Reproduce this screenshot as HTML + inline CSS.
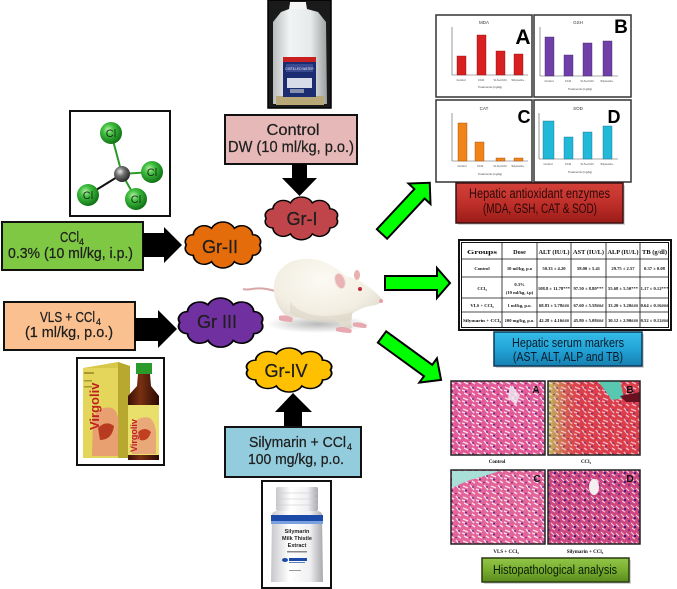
<!DOCTYPE html>
<html><head><meta charset="utf-8">
<style>
html,body{margin:0;padding:0;background:#fff;}
svg{display:block;}
text{font-family:"Liberation Sans",sans-serif;}
.t{fill:#1e1e1e;stroke:#1e1e1e;stroke-width:0.25;}
.serif{font-family:"Liberation Serif",serif;font-weight:bold;fill:#111;}
</style></head>
<body>
<svg width="677" height="589" viewBox="0 0 677 589" xmlns="http://www.w3.org/2000/svg">
<defs>
  <path id="cloud" d="M94,30 A9.5,9.5 0 0 1 85.6,44.1 A13,13 0 0 1 63.6,52.8 A15,15 0 0 1 36.4,52.8 A13,13 0 0 1 14.4,44.1 A9.5,9.5 0 0 1 6,30 A9.5,9.5 0 0 1 14.4,15.9 A13,13 0 0 1 36.4,7.2 A15,15 0 0 1 63.6,7.2 A13,13 0 0 1 85.6,15.9 A9.5,9.5 0 0 1 94,30 Z"/>
  <radialGradient id="clg" cx="0.38" cy="0.35" r="0.7">
    <stop offset="0" stop-color="#b8f0a8"/><stop offset="0.35" stop-color="#40c040"/><stop offset="1" stop-color="#0a6a10"/>
  </radialGradient>
  <radialGradient id="cg" cx="0.38" cy="0.35" r="0.7">
    <stop offset="0" stop-color="#e8e8e8"/><stop offset="0.4" stop-color="#707070"/><stop offset="1" stop-color="#202020"/>
  </radialGradient>
  <linearGradient id="redg" x1="0" y1="0" x2="0" y2="1">
    <stop offset="0" stop-color="#d4403a"/><stop offset="0.5" stop-color="#c0302a"/><stop offset="1" stop-color="#9a1c18"/>
  </linearGradient>
  <linearGradient id="blueg" x1="0" y1="0" x2="0" y2="1">
    <stop offset="0" stop-color="#36bde8"/><stop offset="0.5" stop-color="#22a4d8"/><stop offset="1" stop-color="#1780b0"/>
  </linearGradient>
  <linearGradient id="greeng" x1="0" y1="0" x2="0" y2="1">
    <stop offset="0" stop-color="#92c648"/><stop offset="0.5" stop-color="#78ae30"/><stop offset="1" stop-color="#5a8a1e"/>
  </linearGradient>
  <linearGradient id="bottleg" x1="0" y1="0" x2="1" y2="0">
    <stop offset="0" stop-color="#b8bcbc"/><stop offset="0.3" stop-color="#f2f4f4"/><stop offset="0.7" stop-color="#e6eaea"/><stop offset="1" stop-color="#9ca0a0"/>
  </linearGradient>
  <linearGradient id="whiteb" x1="0" y1="0" x2="1" y2="0">
    <stop offset="0" stop-color="#c8c8cc"/><stop offset="0.35" stop-color="#ffffff"/><stop offset="0.75" stop-color="#f0f0f2"/><stop offset="1" stop-color="#a8a8ae"/>
  </linearGradient>
  <linearGradient id="brown" x1="0" y1="0" x2="1" y2="0">
    <stop offset="0" stop-color="#3a1006"/><stop offset="0.4" stop-color="#7a3012"/><stop offset="1" stop-color="#2a0a04"/>
  </linearGradient>
  <radialGradient id="ratg" cx="0.45" cy="0.3" r="0.75">
    <stop offset="0" stop-color="#fcfaf3"/><stop offset="0.6" stop-color="#f2eee2"/><stop offset="1" stop-color="#d8d3c4"/>
  </radialGradient>
  <radialGradient id="shadow" cx="0.5" cy="0.5" r="0.5">
    <stop offset="0" stop-color="#808080" stop-opacity="0.55"/><stop offset="1" stop-color="#808080" stop-opacity="0"/>
  </radialGradient>
  <pattern id="tex" width="14" height="11" patternUnits="userSpaceOnUse">
    <path d="M1,2 L6,4 M8,1 L12,6 M2,8 L6,10 M10,8 L13,10 M0,5 L3,6" stroke="#fbe0ea" stroke-width="1.4"/>
    <circle cx="4" cy="6.5" r="1" fill="#4a2a8a"/>
    <circle cx="11" cy="3" r="0.9" fill="#4a2a8a"/>
    <circle cx="8" cy="9.5" r="0.8" fill="#6a2080"/>
  </pattern>
  <pattern id="tex2" width="10" height="9" patternUnits="userSpaceOnUse">
    <path d="M1,1 L4,4 M6,2 L9,5 M2,6 L5,8" stroke="#f6d0e0" stroke-width="1.1"/>
    <circle cx="5" cy="5" r="1.1" fill="#3a1a7a"/>
    <circle cx="9" cy="8" r="0.9" fill="#4a2080"/>
  </pattern>
  <linearGradient id="hbB1" x1="0" y1="0" x2="1" y2="0">
    <stop offset="0" stop-color="#b8d860" stop-opacity="0.85"/><stop offset="0.4" stop-color="#e04050" stop-opacity="0"/>
  </linearGradient>
</defs>

<!-- ===== Distilled water image ===== -->
<rect x="268" y="0" width="63" height="108" fill="#1a1a1a" stroke="#000" stroke-width="1.5"/>
<path d="M290,3 L306,3 L307,9 L318,12 L326,22 L327,104 L273,104 L273,22 L281,12 L289,9 Z" fill="url(#bottleg)"/>
<rect x="290" y="2" width="16" height="7" fill="#f4f4f4"/>
<rect x="276" y="96" width="48" height="9" fill="#b8a878"/>
<rect x="283" y="57" width="33" height="40" fill="#1c2c70"/>
<rect x="283" y="57" width="33" height="5" fill="#c82020"/>
<rect x="286" y="64" width="27" height="8" fill="#3a4a90"/>
<text x="299.5" y="70" font-size="3.2" fill="#e8e8f8" text-anchor="middle">DISTILLED WATER</text>
<rect x="287" y="78" width="25" height="10" fill="#d8dce8"/>
<rect x="290" y="89" width="14" height="4" fill="#8890b0"/>

<!-- ===== Control box ===== -->
<rect x="225" y="115" width="132" height="49" fill="#e6b9b8" stroke="#111" stroke-width="2"/>
<text class="t" x="293" y="135" font-size="16" text-anchor="middle" textLength="53" lengthAdjust="spacingAndGlyphs">Control</text>
<text class="t" x="228" y="152" font-size="16" textLength="126" lengthAdjust="spacingAndGlyphs">DW (10 ml/kg, p.o.)</text>
<polygon points="292,164 307,164 307,178 317,178 299.5,196 282,178 292,178" fill="#000"/>

<!-- ===== Molecule ===== -->
<rect x="70" y="111" width="100" height="105" fill="#fff" stroke="#111" stroke-width="2"/>
<line x1="122" y1="174" x2="111" y2="133" stroke="#2a9a2a" stroke-width="2"/>
<line x1="122" y1="174" x2="152" y2="172" stroke="#2a9a2a" stroke-width="2"/>
<line x1="122" y1="174" x2="88" y2="195" stroke="#111" stroke-width="2"/>
<line x1="122" y1="174" x2="136" y2="199" stroke="#2a9a2a" stroke-width="2"/>
<circle cx="111" cy="133" r="11" fill="url(#clg)"/>
<circle cx="152" cy="172" r="11" fill="url(#clg)"/>
<circle cx="88" cy="195" r="11" fill="url(#clg)"/>
<circle cx="136" cy="199" r="11" fill="url(#clg)"/>
<circle cx="122" cy="174" r="8" fill="url(#cg)"/>
<text x="111" y="137" font-size="11" text-anchor="middle" fill="#1a2a1a">Cl</text>
<text x="152" y="176" font-size="11" text-anchor="middle" fill="#1a2a1a">Cl</text>
<text x="88" y="199" font-size="11" text-anchor="middle" fill="#1a2a1a">Cl</text>
<text x="136" y="203" font-size="11" text-anchor="middle" fill="#1a2a1a">Cl</text>

<!-- ===== CCl4 box ===== -->
<rect x="2" y="222" width="141" height="48" fill="#7ec843" stroke="#111" stroke-width="2"/>
<text class="t" x="60" y="242" font-size="15" textLength="19" lengthAdjust="spacingAndGlyphs">CCl</text>
<text class="t" x="79" y="245" font-size="9">4</text>
<text class="t" x="8" y="258" font-size="15" textLength="125" lengthAdjust="spacingAndGlyphs">0.3% (10 ml/kg, i.p.)</text>
<polygon points="143,233 164,233 164,227 182,245 164,263 164,257 143,257" fill="#000"/>

<!-- ===== VLS box ===== -->
<rect x="4" y="302" width="131" height="48" fill="#fac090" stroke="#111" stroke-width="2"/>
<text class="t" x="40" y="322" font-size="15" textLength="55" lengthAdjust="spacingAndGlyphs">VLS + CCl</text>
<text class="t" x="96" y="325" font-size="9">4</text>
<text class="t" x="25" y="337" font-size="15" textLength="88" lengthAdjust="spacingAndGlyphs">(1 ml/kg, p.o.)</text>
<polygon points="135,318 158,318 158,310 177,329 158,348 158,341 135,341" fill="#000"/>

<!-- ===== Virgoliv image ===== -->
<rect x="77" y="358" width="87" height="107" fill="#fff" stroke="#111" stroke-width="2"/>
<polygon points="83,368 118,362 130,366 130,458 83,458" fill="#d8c848"/>
<polygon points="118,362 130,366 130,458 118,458" fill="#b8a830"/>
<rect x="83" y="368" width="35" height="90" fill="#e4d65a"/>
<path d="M93,418 Q100,405 112,408 Q120,412 118,430 L118,456 L92,456 Z" fill="#e8a070"/>
<path d="M98,428 Q106,420 114,426 Q112,440 100,440 Z" fill="#b83a20"/>
<text x="0" y="0" font-size="13" font-weight="bold" fill="#c02020" transform="translate(99,430) rotate(-90)">Virgoliv</text>
<rect x="84" y="372" width="10" height="2" fill="#a89a30"/>
<rect x="84" y="380" width="8" height="1.5" fill="#a89a30"/>
<rect x="84" y="386" width="8" height="1.5" fill="#a89a30"/>
<rect x="136" y="363" width="16" height="11" fill="#2a9a2a"/>
<path d="M138,374 L150,374 L151,386 L159,396 L159,460 L128,460 L128,396 L137,386 Z" fill="url(#brown)"/>
<rect x="128" y="405" width="31" height="50" fill="#e8e06a"/>
<path d="M132,425 Q140,415 150,418 Q157,424 156,440 L156,454 L132,454 Z" fill="#e8a878"/>
<path d="M138,432 Q145,426 151,432 Q148,442 140,440 Z" fill="#c04020"/>
<text x="0" y="0" font-size="9" font-weight="bold" fill="#c02020" transform="translate(137,452) rotate(-90)">Virgoliv</text>

<!-- ===== Rat ===== -->
<ellipse cx="318" cy="324" rx="52" ry="9" fill="url(#shadow)"/>
<path d="M275,291 Q262,287 252,289 Q246,290 243,289" stroke="#d9a6a6" stroke-width="2" fill="none"/>
<path d="M274,293 Q272,272 290,262 Q305,256 322,261 Q336,267 346,276 Q356,278 366,285 Q376,292 383,300 Q380,305 370,306 Q360,308 352,314 Q350,322 352,328 L346,330 Q340,322 330,318 Q315,321 300,318 Q290,318 285,315 Q276,306 274,293 Z" fill="url(#ratg)"/>
<path d="M290,302 Q300,314 320,316 Q340,316 352,312 L352,320 Q340,324 320,322 Q300,320 290,313 Z" fill="#dcd6c6" opacity="0.6"/>
<ellipse cx="340" cy="281" rx="5" ry="8" transform="rotate(-20 340 281)" fill="#eab4b4" stroke="#f0e8e0" stroke-width="1"/>
<ellipse cx="357" cy="275" rx="3" ry="5" fill="#e8b0b0"/>
<circle cx="360" cy="289" r="2" fill="#c02a3a"/>
<circle cx="381" cy="301" r="2" fill="#e8a0a8"/>
<path d="M279,316 Q285,314 293,318 L292,322 Q285,322 279,320 Z" fill="#e8a8b0"/>
<path d="M336,328 Q343,325 352,330 L351,333 Q343,333 336,331 Z" fill="#e8a8b0"/>
<path d="M353,323 Q360,321 367,325 L366,328 Q359,328 353,326 Z" fill="#e8a8b0"/>

<!-- ===== Clouds ===== -->
<use href="#cloud" transform="translate(261.4,198) scale(0.8,0.68)" fill="#c0454a" stroke="#000" stroke-width="2" vector-effect="non-scaling-stroke"/>
<text class="t" x="302" y="225" font-size="18" text-anchor="middle">Gr-I</text>
<use href="#cloud" transform="translate(181.3,223.1) scale(0.833,0.73)" fill="#e46c0a" stroke="#000" stroke-width="2" vector-effect="non-scaling-stroke"/>
<text class="t" x="220" y="253" font-size="18" text-anchor="middle">Gr-II</text>
<use href="#cloud" transform="translate(174.1,299.2) scale(0.93,0.78)" fill="#7030a0" stroke="#000" stroke-width="2" vector-effect="non-scaling-stroke"/>
<text class="t" x="217" y="328" font-size="18" text-anchor="middle">Gr III</text>
<use href="#cloud" transform="translate(242.1,349) scale(0.94,0.70)" fill="#ffc000" stroke="#000" stroke-width="2" vector-effect="non-scaling-stroke"/>
<text class="t" x="286" y="377" font-size="18" text-anchor="middle">Gr-IV</text>
<polygon points="284,428 302,428 302,412 312,412 293,393 275,412 284,412" fill="#000"/>

<!-- ===== Silymarin box ===== -->
<rect x="225" y="427" width="136" height="50" fill="#93cddd" stroke="#111" stroke-width="2"/>
<text class="t" x="249" y="447" font-size="15" textLength="97" lengthAdjust="spacingAndGlyphs">Silymarin + CCl</text>
<text class="t" x="347" y="450" font-size="9">4</text>
<text class="t" x="248" y="464" font-size="15" textLength="96" lengthAdjust="spacingAndGlyphs">100 mg/kg, p.o.</text>

<!-- ===== Silymarin bottle image ===== -->
<rect x="262" y="481" width="69" height="107" fill="#fff" stroke="#111" stroke-width="2"/>
<rect x="276" y="487" width="42" height="24" rx="2" fill="url(#whiteb)"/>
<line x1="276" y1="493" x2="318" y2="493" stroke="#c8c8cc" stroke-width="0.6"/>
<line x1="276" y1="499" x2="318" y2="499" stroke="#c8c8cc" stroke-width="0.6"/>
<line x1="276" y1="505" x2="318" y2="505" stroke="#c8c8cc" stroke-width="0.6"/>
<path d="M272,515 Q272,511 278,511 L316,511 Q322,511 322,515 L323,582 L271,582 Z" fill="url(#whiteb)"/>
<rect x="271" y="515" width="52" height="6" fill="#1c4aa8"/>
<rect x="271" y="521" width="52" height="3" fill="#7aa0e0"/>
<text x="297" y="533" font-size="5.5" font-weight="bold" text-anchor="middle" fill="#222">Silymarin</text>
<text x="297" y="540" font-size="5.5" font-weight="bold" text-anchor="middle" fill="#222">Milk Thistle</text>
<text x="297" y="547" font-size="5.5" font-weight="bold" text-anchor="middle" fill="#222">Extract</text>
<rect x="287" y="551" width="20" height="1.5" fill="#888"/>
<ellipse cx="285" cy="560" rx="3" ry="2" fill="#1c4aa8"/>
<rect x="289" y="558" width="18" height="3" fill="#1c4aa8"/>
<rect x="289" y="562" width="16" height="1" fill="#6080c0"/>
<rect x="289" y="570" width="12" height="1" fill="#999"/>

<!-- ===== Green arrows ===== -->
<polygon transform="translate(382,234) rotate(-47)" points="0,-7 55,-7 55,-15 70,0 55,15 55,7 0,7" fill="#00ff00" stroke="#000" stroke-width="2"/>
<polygon transform="translate(385,283)" points="0,-7 52,-7 52,-15 65,0 52,15 52,7 0,7" fill="#00ff00" stroke="#000" stroke-width="2"/>
<polygon transform="translate(382,337) rotate(36)" points="0,-7 57,-7 57,-15 73,0 57,15 57,7 0,7" fill="#00ff00" stroke="#000" stroke-width="2"/>

<!-- ===== Charts ===== -->
<!-- A -->
<rect x="436" y="15" width="96" height="82" fill="#fff" stroke="#333" stroke-width="1.5"/>
<text x="484" y="24" font-size="4.5" text-anchor="middle" fill="#333">MDA</text>
<line x1="452" y1="27" x2="452" y2="75" stroke="#555" stroke-width="0.6"/>
<line x1="452" y1="75" x2="528" y2="75" stroke="#555" stroke-width="0.6"/>
<rect x="457" y="56" width="9" height="19" fill="#d82020" stroke="#8a1010" stroke-width="0.4"/>
<rect x="477" y="35" width="9" height="40" fill="#d82020" stroke="#8a1010" stroke-width="0.4"/>
<rect x="496" y="51" width="9" height="24" fill="#d82020" stroke="#8a1010" stroke-width="0.4"/>
<rect x="514" y="54" width="9" height="21" fill="#d82020" stroke="#8a1010" stroke-width="0.4"/>
<text x="461" y="81" font-size="2.8" text-anchor="middle" fill="#444">Control</text>
<text x="481" y="81" font-size="2.8" text-anchor="middle" fill="#444">CCl4</text>
<text x="500" y="81" font-size="2.8" text-anchor="middle" fill="#444">VLS+CCl4</text>
<text x="518" y="81" font-size="2.8" text-anchor="middle" fill="#444">Silymarin+</text>
<text x="490" y="88" font-size="2.8" text-anchor="middle" fill="#444">Treatments (mg/kg)</text>
<text x="523" y="44" font-size="21" font-weight="bold" text-anchor="middle" fill="#000">A</text>
<!-- B -->
<rect x="534" y="15" width="97" height="82" fill="#fff" stroke="#333" stroke-width="1.5"/>
<text x="578" y="24" font-size="4.5" text-anchor="middle" fill="#333">GSH</text>
<line x1="540" y1="27" x2="540" y2="76" stroke="#555" stroke-width="0.6"/>
<line x1="540" y1="76" x2="618" y2="76" stroke="#555" stroke-width="0.6"/>
<rect x="545" y="37" width="9" height="39" fill="#7040a8" stroke="#3a1a60" stroke-width="0.4"/>
<rect x="564" y="55" width="9" height="21" fill="#7040a8" stroke="#3a1a60" stroke-width="0.4"/>
<rect x="583" y="43" width="9" height="33" fill="#7040a8" stroke="#3a1a60" stroke-width="0.4"/>
<rect x="603" y="41" width="9" height="35" fill="#7040a8" stroke="#3a1a60" stroke-width="0.4"/>
<text x="549" y="82" font-size="2.8" text-anchor="middle" fill="#444">Control</text>
<text x="568" y="82" font-size="2.8" text-anchor="middle" fill="#444">CCl4</text>
<text x="587" y="82" font-size="2.8" text-anchor="middle" fill="#444">VLS+CCl4</text>
<text x="607" y="82" font-size="2.8" text-anchor="middle" fill="#444">Silymarin+</text>
<text x="580" y="90" font-size="2.8" text-anchor="middle" fill="#444">Treatments (mg/kg)</text>
<text x="621" y="33" font-size="19" font-weight="bold" text-anchor="middle" fill="#000">B</text>
<!-- C -->
<rect x="436" y="100" width="96" height="82" fill="#fff" stroke="#333" stroke-width="1.5"/>
<text x="484" y="110" font-size="4.5" text-anchor="middle" fill="#333">CAT</text>
<line x1="452" y1="113" x2="452" y2="161" stroke="#555" stroke-width="0.6"/>
<line x1="452" y1="161" x2="528" y2="161" stroke="#555" stroke-width="0.6"/>
<rect x="458" y="123" width="9" height="38" fill="#f08418" stroke="#9a4a08" stroke-width="0.4"/>
<rect x="475" y="142" width="9" height="19" fill="#f08418" stroke="#9a4a08" stroke-width="0.4"/>
<rect x="496" y="158" width="9" height="3" fill="#f08418" stroke="#9a4a08" stroke-width="0.4"/>
<rect x="514" y="158" width="9" height="3" fill="#f08418" stroke="#9a4a08" stroke-width="0.4"/>
<text x="462" y="167" font-size="2.8" text-anchor="middle" fill="#444">Control</text>
<text x="480" y="167" font-size="2.8" text-anchor="middle" fill="#444">CCl4</text>
<text x="500" y="167" font-size="2.8" text-anchor="middle" fill="#444">VLS+CCl4</text>
<text x="518" y="167" font-size="2.8" text-anchor="middle" fill="#444">Silymarin+</text>
<text x="490" y="175" font-size="2.8" text-anchor="middle" fill="#444">Treatments (mg/kg)</text>
<text x="524" y="123" font-size="18" font-weight="bold" text-anchor="middle" fill="#000">C</text>
<!-- D -->
<rect x="534" y="100" width="97" height="82" fill="#fff" stroke="#333" stroke-width="1.5"/>
<text x="578" y="110" font-size="4.5" text-anchor="middle" fill="#333">SOD</text>
<line x1="539" y1="113" x2="539" y2="159" stroke="#555" stroke-width="0.6"/>
<line x1="539" y1="159" x2="618" y2="159" stroke="#555" stroke-width="0.6"/>
<rect x="543" y="121" width="11" height="38" fill="#22b8d8" stroke="#0a6a88" stroke-width="0.4"/>
<rect x="564" y="137" width="9" height="22" fill="#22b8d8" stroke="#0a6a88" stroke-width="0.4"/>
<rect x="583" y="132" width="9" height="27" fill="#22b8d8" stroke="#0a6a88" stroke-width="0.4"/>
<rect x="603" y="126" width="9" height="33" fill="#22b8d8" stroke="#0a6a88" stroke-width="0.4"/>
<text x="548" y="165" font-size="2.8" text-anchor="middle" fill="#444">Control</text>
<text x="568" y="165" font-size="2.8" text-anchor="middle" fill="#444">CCl4</text>
<text x="587" y="165" font-size="2.8" text-anchor="middle" fill="#444">VLS+CCl4</text>
<text x="607" y="165" font-size="2.8" text-anchor="middle" fill="#444">Silymarin+</text>
<text x="580" y="173" font-size="2.8" text-anchor="middle" fill="#444">Treatments (mg/kg)</text>
<text x="614" y="123" font-size="18" font-weight="bold" text-anchor="middle" fill="#000">D</text>

<!-- Red box -->
<rect x="458" y="185" width="167" height="40" fill="#b8b8b8" opacity="0.6"/>
<rect x="456" y="183" width="167" height="40" fill="url(#redg)" stroke="#3a1010" stroke-width="1.5"/>
<text x="539.5" y="198" font-size="13.5" text-anchor="middle" fill="#2a0808" textLength="141" lengthAdjust="spacingAndGlyphs">Hepatic antioxidant enzymes</text>
<text x="540" y="213" font-size="13.5" text-anchor="middle" fill="#2a0808" textLength="114" lengthAdjust="spacingAndGlyphs">(MDA, GSH, CAT &amp; SOD)</text>

<!-- ===== Table ===== -->
<rect x="459" y="240" width="212" height="90" fill="#fff" stroke="#111" stroke-width="2"/>
<rect x="461.5" y="242.5" width="207" height="85" fill="none" stroke="#111" stroke-width="1"/>
<g stroke="#111" stroke-width="0.8">
  <line x1="502" y1="242.5" x2="502" y2="327.5"/>
  <line x1="537" y1="242.5" x2="537" y2="327.5"/>
  <line x1="571" y1="242.5" x2="571" y2="327.5"/>
  <line x1="606" y1="242.5" x2="606" y2="327.5"/>
  <line x1="640" y1="242.5" x2="640" y2="327.5"/>
  <line x1="461.5" y1="259" x2="668.5" y2="259"/>
  <line x1="461.5" y1="277" x2="668.5" y2="277"/>
  <line x1="461.5" y1="298" x2="668.5" y2="298"/>
  <line x1="461.5" y1="312" x2="668.5" y2="312"/>
</g>
<g font-size="6.2" text-anchor="middle">
  <text class="serif" x="482" y="254" textLength="30" lengthAdjust="spacingAndGlyphs">Groups</text>
  <text class="serif" x="519.5" y="254">Dose</text>
  <text class="serif" x="554" y="254" textLength="31" lengthAdjust="spacingAndGlyphs">ALT (IU/L)</text>
  <text class="serif" x="588.5" y="254" textLength="31" lengthAdjust="spacingAndGlyphs">AST (IU/L)</text>
  <text class="serif" x="623" y="254" textLength="31" lengthAdjust="spacingAndGlyphs">ALP (IU/L)</text>
  <text class="serif" x="654.5" y="254" textLength="25" lengthAdjust="spacingAndGlyphs">TB (g/dl)</text>
</g>
<g font-size="4.6" text-anchor="middle">
  <text class="serif" x="482" y="270">Control</text>
  <text class="serif" x="519.5" y="270" font-weight="normal">10 ml/kg, p.o</text>
  <text class="serif" x="554" y="270" font-weight="normal">50.33 ± 4.20</text>
  <text class="serif" x="588.5" y="270" font-weight="normal">58.00 ± 5.41</text>
  <text class="serif" x="623" y="270" font-weight="normal">29.75 ± 2.57</text>
  <text class="serif" x="654.5" y="270" font-weight="normal">0.37 ± 0.08</text>

  <text class="serif" x="482" y="290">CCl₄</text>
  <text class="serif" x="519.5" y="286" font-weight="normal">0.3%</text>
  <text class="serif" x="519.5" y="294" font-weight="normal">(10 ml/kg, i.p)</text>
  <text class="serif" x="554" y="290" font-weight="normal">108.8 ± 11.78***</text>
  <text class="serif" x="588.5" y="290" font-weight="normal">97.50 ± 8.80***</text>
  <text class="serif" x="623" y="290" font-weight="normal">55.68 ± 5.50***</text>
  <text class="serif" x="654.5" y="290" font-weight="normal">1.17 ± 0.12***</text>

  <text class="serif" x="482" y="307">VLS + CCl₄</text>
  <text class="serif" x="519.5" y="307" font-weight="normal">1 ml/kg, p.o.</text>
  <text class="serif" x="554" y="307" font-weight="normal">68.83 ± 5.78###</text>
  <text class="serif" x="588.5" y="307" font-weight="normal">67.60 ± 5.58###</text>
  <text class="serif" x="623" y="307" font-weight="normal">33.20 ± 3.20###</text>
  <text class="serif" x="654.5" y="307" font-weight="normal">0.64 ± 0.16###</text>

  <text class="serif" x="482" y="322" textLength="38" lengthAdjust="spacingAndGlyphs">Silymarin + CCl₄</text>
  <text class="serif" x="519.5" y="322" font-weight="normal">100 mg/kg, p.o.</text>
  <text class="serif" x="554" y="322" font-weight="normal">42.28 ± 4.16###</text>
  <text class="serif" x="588.5" y="322" font-weight="normal">45.80 ± 5.08###</text>
  <text class="serif" x="623" y="322" font-weight="normal">30.12 ± 2.90###</text>
  <text class="serif" x="654.5" y="322" font-weight="normal">0.52 ± 0.12###</text>
</g>

<!-- Blue box -->
<rect x="496" y="334" width="148" height="34" fill="#b8b8b8" opacity="0.6"/>
<rect x="494" y="332" width="148" height="34" fill="url(#blueg)" stroke="#0a3a5a" stroke-width="1.5"/>
<text x="568" y="347" font-size="13" text-anchor="middle" fill="#0a1a2a" textLength="112" lengthAdjust="spacingAndGlyphs">Hepatic serum markers</text>
<text x="568" y="361" font-size="13" text-anchor="middle" fill="#0a1a2a" textLength="110" lengthAdjust="spacingAndGlyphs">(AST, ALT, ALP and TB)</text>

<!-- ===== Histology ===== -->
<!-- A -->
<rect x="451" y="381" width="94" height="74" fill="#e25a96"/>
<rect x="451" y="381" width="94" height="74" fill="url(#tex)"/>
<path d="M510,385 L520,395 L516,405 L508,398 Z" fill="#f0f0f8" opacity="0.8"/>
<rect x="451" y="381" width="94" height="74" fill="none" stroke="#222" stroke-width="1.5"/>
<text x="536" y="393" font-size="10" font-weight="bold" fill="#111" text-anchor="middle">A</text>
<!-- B -->
<rect x="548" y="381" width="92" height="74" fill="#dc3e4a"/>
<rect x="548" y="381" width="92" height="74" fill="url(#hbB1)"/>
<rect x="548" y="381" width="92" height="74" fill="url(#tex)" opacity="0.75"/>
<path d="M598,381 L620,381 L624,398 L612,400 Z" fill="#58c8b0"/>
<path d="M620,396 L640,392 L640,402 L626,402 Z" fill="#6a1020"/>
<rect x="548" y="381" width="92" height="74" fill="none" stroke="#222" stroke-width="1.5"/>
<text x="630" y="393" font-size="10" font-weight="bold" fill="#111" text-anchor="middle">B</text>
<!-- C -->
<rect x="451" y="470" width="94" height="74" fill="#e26498"/>
<rect x="451" y="470" width="94" height="74" fill="url(#tex)"/>
<path d="M452,471 L500,471 Q485,476 470,480 Q460,484 452,488 Z" fill="#a8e0d8"/>
<rect x="451" y="470" width="94" height="74" fill="none" stroke="#222" stroke-width="1.5"/>
<text x="537" y="482" font-size="10" font-weight="bold" fill="#111" text-anchor="middle">C</text>
<!-- D -->
<rect x="548" y="470" width="92" height="74" fill="#cc4680"/>
<rect x="548" y="470" width="92" height="74" fill="url(#tex2)"/>
<ellipse cx="594" cy="487" rx="5" ry="8" fill="#f4f0f0"/>
<rect x="548" y="470" width="92" height="74" fill="none" stroke="#222" stroke-width="1.5"/>
<text x="630" y="482" font-size="10" font-weight="bold" fill="#111" text-anchor="middle">D</text>

<text class="serif" x="497" y="463" font-size="5" text-anchor="middle">Control</text>
<text class="serif" x="586" y="463" font-size="5" text-anchor="middle">CCl₄</text>
<text class="serif" x="506" y="553" font-size="5" text-anchor="middle">VLS + CCl₄</text>
<text class="serif" x="585" y="553" font-size="5" text-anchor="middle">Silymarin + CCl₄</text>

<!-- Green box -->
<rect x="484" y="560" width="147" height="24" fill="#b8b8b8" opacity="0.6"/>
<rect x="482" y="558" width="147" height="24" fill="url(#greeng)" stroke="#2a3a10" stroke-width="1.5"/>
<text x="555" y="574" font-size="13" text-anchor="middle" fill="#0a1a05" textLength="124" lengthAdjust="spacingAndGlyphs">Histopathological analysis</text>
</svg>
</body></html>
